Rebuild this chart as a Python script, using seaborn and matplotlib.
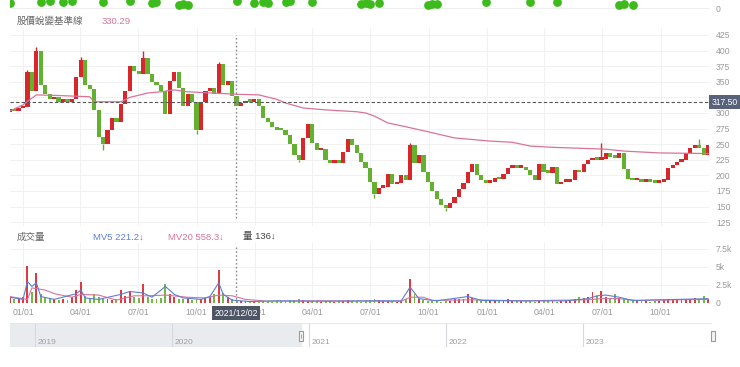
import numpy as np
import pandas as pd
import matplotlib
matplotlib.use("Agg")
import matplotlib.pyplot as plt
import matplotlib.dates as mdates
import matplotlib.transforms as mtransforms
from matplotlib.patches import Rectangle
import seaborn as sns

# weekly closes (2020-12-11 .. 2023-12-15)
close = [305, 303, 308, 310, 365, 336, 400, 345, 330, 322,
         326, 318, 320, 318, 322, 358, 385, 345, 338, 305,
         262, 250, 272, 292, 285, 315, 335, 375, 368, 362,
         388, 362, 350, 345, 335, 298, 352, 365, 340, 312,
         330, 318, 272, 318, 335, 340, 330, 378, 345, 352,
         328, 312, 316, 320, 318, 322, 312, 292, 285, 278,
         273, 272, 265, 250, 232, 225, 260, 282, 252, 240,
         242, 225, 220, 222, 220, 238, 258, 248, 236, 222,
         212, 190, 170, 180, 182, 202, 186, 188, 200, 192,
         248, 220, 232, 205, 190, 175, 162, 152, 148, 155,
         165, 178, 188, 205, 218, 200, 192, 188, 190, 196,
         194, 202, 212, 216, 212, 214, 208, 200, 193, 218,
         205, 204, 214, 186, 190, 190, 192, 208, 205, 218,
         224, 228, 225, 226, 236, 230, 228, 236, 210, 195,
         192, 193, 190, 192, 190, 188, 190, 192, 212, 216,
         222, 224, 236, 244, 246, 244, 232, 248]
first_open = 302

# volume in thousands
volume = [0.8, 0.6, 0.5, 0.8, 5.1, 1.5, 4.2, 1.2, 0.8, 0.6,
          0.5, 0.4, 0.5, 0.4, 0.9, 1.8, 2.9, 1.0, 0.6, 1.2,
          0.8, 0.6, 0.5, 0.4, 0.5, 1.8, 1.0, 1.6, 0.9, 0.7,
          2.7, 0.9, 0.5, 0.6, 0.7, 2.6, 1.2, 0.8, 0.6, 0.5,
          0.6, 0.4, 0.6, 0.5, 0.7, 0.9, 1.3, 4.6, 1.4, 0.8,
          0.5, 0.4, 0.3, 0.3, 0.25, 0.3, 0.2, 0.25, 0.3, 0.2,
          0.3, 0.25, 0.3, 0.35, 0.4, 0.5, 0.4, 0.3, 0.25, 0.3,
          0.2, 0.25, 0.3, 0.2, 0.25, 0.3, 0.35, 0.3, 0.25, 0.2,
          0.3, 0.4, 0.5, 0.4, 0.3, 0.25, 0.3, 0.2, 0.3, 0.5,
          3.4, 1.2, 0.5, 0.4, 0.3, 0.25, 0.3, 0.2, 0.25, 0.3,
          0.5, 0.6, 0.5, 1.2, 0.7, 0.4, 0.3, 0.25, 0.3, 0.35,
          0.3, 0.4, 0.5, 0.4, 0.3, 0.25, 0.3, 0.25, 0.2, 0.3,
          0.3, 0.25, 0.3, 0.2, 0.25, 0.3, 0.3, 0.6, 0.9, 0.7,
          0.8, 1.5, 1.0, 1.6, 0.8, 0.6, 1.2, 0.7, 0.5, 0.4,
          0.3, 0.25, 0.3, 0.25, 0.2, 0.3, 0.3, 0.4, 0.6, 0.5,
          0.6, 0.5, 0.6, 0.5, 0.7, 0.6, 1.0, 0.5]

# wicks for the visible spikes
high_weeks = [4, 6, 16, 30, 47, 90, 133, 155]
high_vals = [369, 406, 390, 400, 382, 252, 252, 258]
low_weeks = [21, 42, 65, 82, 98]
low_vals = [241, 266, 221, 163, 143]

# 股價蛻變基準線 (pink long baseline)
base_weeks = [0, 3, 6, 11, 18, 19, 25, 27, 31, 34, 37, 40, 51, 56, 60, 62, 66,
              71, 78, 80, 82, 85, 89, 94, 100, 108, 113, 117, 122, 134, 138, 146, 157]
base_vals = [303, 313, 329, 328, 326, 318, 318, 325, 332, 334, 337, 334, 330, 329,
             322, 316, 308, 305, 302, 300, 295, 284, 278, 270, 260, 255, 253, 247,
             245, 242, 239, 236, 235]

mv5_weeks = [0, 3, 4, 5, 6, 7, 10, 15, 16, 17, 20, 25, 27, 30, 32, 35, 37, 39, 43, 45,
             47, 48, 50, 54, 60, 70, 80, 88, 90, 92, 96, 103, 106, 115, 125, 130, 132,
             134, 137, 140, 150, 157]
mv5_vals = [0.8, 0.5, 3.0, 2.3, 2.8, 0.9, 0.5, 1.3, 1.8, 0.7, 0.5, 1.2, 1.6, 1.4, 0.8,
            2.3, 1.2, 0.7, 0.5, 0.9, 2.8, 1.2, 0.4, 0.2, 0.3, 0.25, 0.3, 0.3, 2.2, 0.6,
            0.3, 0.9, 0.35, 0.3, 0.3, 0.6, 1.0, 1.1, 0.8, 0.35, 0.5, 0.6]
mv20_weeks = [0, 4, 5, 8, 10, 14, 16, 20, 24, 28, 31, 35, 40, 44, 47, 50, 53, 58, 70, 88,
              90, 93, 95, 104, 115, 130, 134, 137, 141, 150, 157]
mv20_vals = [0.9, 0.5, 2.1, 1.8, 1.3, 0.8, 1.2, 1.1, 0.4, 1.0, 1.0, 1.1, 0.8, 0.7, 1.1,
             1.0, 0.5, 0.25, 0.3, 0.25, 0.8, 0.8, 0.35, 0.45, 0.3, 0.45, 0.65, 0.6, 0.35,
             0.45, 0.5]

# green markers of the panel above (cut off at the top)
signal_weeks = [0, 7, 9, 12, 14, 21, 27, 32, 33, 38, 39, 40, 51, 55, 57, 58, 62, 63, 68,
                79, 80, 81, 83, 94, 95, 96, 107, 117, 123, 137, 138, 140]
signal_level = [5, 6, 7, 6, 7, 6, 7, 5, 6, 3, 4, 3, 7, 5, 6, 5, 6, 7, 6, 4, 5, 4, 5, 3,
                4, 4, 6, 6, 6, 3, 4, 3]

price_ticks = [125, 150, 175, 200, 225, 250, 275, 300, 325, 350, 375, 400, 425]
vol_ticks = [0, 2.5, 5, 7.5]
vol_labels = ['0', '2.5k', '5k', '7.5k']
nav_years = [2019, 2020, 2021, 2022, 2023]

cross_date = pd.Timestamp('2021-12-02')
cross_price = 317.50
base_at_cross = 330.29
mv5_now, mv20_now, vol_now = 221.2, 558.3, 136

weeks = pd.date_range('2020-12-11', periods=len(close), freq='7D')
close = np.array(close, dtype=float)
opens = np.r_[first_open, close[:-1]]
up = close >= opens

RED, GREEN = '#d9262b', '#62b22f'
PINK, BLUE = '#d9739a', '#5b7fd6'
GREYTXT = '#9a9a9a'

sns.set_theme(style='white')
plt.rcParams['font.family'] = ['Liberation Sans', 'Noto Sans CJK TC', 'DejaVu Sans']

W, H = 740, 367
fig = plt.figure(figsize=(W / 100, H / 100), dpi=100)


def rect(x0, y0, x1, y1):
    return [x0 / W, 1 - y1 / H, (x1 - x0) / W, (y1 - y0) / H]


def main_date(px):
    return pd.Timestamp('2021-01-01') + pd.Timedelta(days=(px - 23) * 365 / 232)


def nav_date(px):
    return pd.Timestamp('2021-01-01') + pd.Timedelta(days=(px - 309) * 365.25 / 137)


xlim = (main_date(10), main_date(709))
month_ticks = pd.date_range('2021-01-01', '2023-10-01', freq='QS')
month_labels = [d.strftime('%m/%d') for d in month_ticks]

ax_top = fig.add_axes(rect(10, 0, 709, 11))
ax = fig.add_axes(rect(10, 28, 709, 226))
axv = fig.add_axes(rect(10, 243, 709, 303))
axn = fig.add_axes(rect(10, 323, 712, 347))

for a in (ax_top, ax, axv, axn):
    for s in a.spines.values():
        s.set_visible(False)
    a.set_facecolor('none')

# top strip
ax_top.scatter(weeks[signal_weeks], signal_level, s=40, color='#3dbb1c', zorder=3,
               linewidths=0)
ax_top.set_xlim(xlim)
ax_top.set_ylim(-3, 8)
ax_top.set_xticks([])
ax_top.axhline(0, color='#eeeeee', lw=0.7, zorder=1)
ax_top.yaxis.tick_right()
ax_top.set_yticks([0])
ax_top.set_yticklabels(['0'])
ax_top.tick_params(axis='y', length=0, pad=5, labelsize=6.2, colors=GREYTXT)

# price panel
width = pd.Timedelta(days=6.6)
body_lo = np.minimum(opens, close)
body_h = np.maximum(np.abs(close - opens), 4.0)
cols = np.where(up, RED, GREEN)
ax.bar(weeks, body_h, bottom=body_lo, width=width, color=cols, linewidth=0, zorder=3)
ax.vlines(weeks[high_weeks], np.maximum(opens, close)[high_weeks], high_vals,
          colors=cols[high_weeks], lw=1.0, zorder=3)
ax.vlines(weeks[low_weeks], low_vals, body_lo[low_weeks],
          colors=cols[low_weeks], lw=1.0, zorder=3)
sns.lineplot(x=weeks[base_weeks], y=base_vals, ax=ax, color=PINK, lw=0.9, zorder=4)
ax.set_xlim(xlim)
ax.set_ylim(118.9, 436.2)
ax.set_xticks(month_ticks)
ax.set_yticks(price_ticks)
ax.yaxis.tick_right()
ax.tick_params(axis='x', length=0, labelbottom=False)
ax.tick_params(axis='y', length=0, pad=5, labelsize=6.2, colors=GREYTXT)
ax.grid(True, color='#f1f1f1', lw=0.7, zorder=0)
ax.set_xlabel('')
ax.set_ylabel('')

ax.axhline(cross_price, color='#555555', lw=0.8, ls=(0, (3, 2)), zorder=5)
ax.axvline(cross_date, ymin=0.04, ymax=0.965, color='#8a8a8a', lw=1.0,
           ls=(0, (1.2, 1.6)), zorder=5)
ax.annotate(f'{cross_price:.2f}', xy=(1.0, cross_price),
            xycoords=('axes fraction', 'data'), xytext=(2, 0), textcoords='offset points',
            ha='left', va='center', fontsize=6.2, color='white', annotation_clip=False,
            zorder=20,
            bbox=dict(boxstyle='square,pad=0.3', fc='#58627a', ec='none'))

fig.text(17 / W, 1 - 21 / H, '股價蛻變基準線', ha='left', va='center', fontsize=6.8,
         color='#666666')
fig.text(102 / W, 1 - 21 / H, f'{base_at_cross:.2f}', ha='left', va='center',
         fontsize=6.8, color=PINK)

# volume panel
axv.bar(weeks, volume, width=pd.Timedelta(days=3), color=cols, linewidth=0,
        alpha=0.9, zorder=3)
sns.lineplot(x=weeks[mv20_weeks], y=mv20_vals, ax=axv, color=PINK, lw=0.8, zorder=4)
sns.lineplot(x=weeks[mv5_weeks], y=mv5_vals, ax=axv, color=BLUE, lw=0.8, zorder=4)
axv.set_xlim(xlim)
axv.set_ylim(0, 60 / 7.2)
axv.set_yticks(vol_ticks)
axv.set_yticklabels(vol_labels)
axv.yaxis.tick_right()
axv.set_xticks(month_ticks)
axv.set_xticklabels(month_labels)
axv.tick_params(axis='x', length=0, pad=3.5, labelsize=6.2, colors=GREYTXT)
axv.tick_params(axis='y', length=0, pad=5, labelsize=6.2, colors=GREYTXT)
axv.grid(True, color='#f1f1f1', lw=0.7, zorder=0)
axv.axhline(0, color='#e2e2e2', lw=0.7, zorder=2)
axv.set_xlabel('')
axv.set_ylabel('')
axv.axvline(cross_date, ymin=0, ymax=0.93, color='#8a8a8a', lw=1.0,
            ls=(0, (1.2, 1.6)), zorder=5)
axv.annotate(cross_date.strftime('%Y/%m/%d'), xy=(cross_date, 0),
             xycoords=('data', 'axes fraction'), xytext=(0, -7.5),
             textcoords='offset points', ha='center', va='center', fontsize=6.2,
             color='white', zorder=20, annotation_clip=False,
             bbox=dict(boxstyle='square,pad=0.3', fc='#4d5666', ec='none'))

fig.text(17 / W, 1 - 237 / H, '成交量', ha='left', va='center', fontsize=6.8,
         color='#666666')
fig.text(93 / W, 1 - 237 / H, f'MV5 {mv5_now}↓', ha='left', va='center',
         fontsize=6.8, color=BLUE)
fig.text(168 / W, 1 - 237 / H, f'MV20 {mv20_now}↓', ha='left', va='center',
         fontsize=6.8, color=PINK)
fig.text(243 / W, 1 - 237 / H, f'量 {vol_now}↓', ha='left', va='center',
         fontsize=6.8, color='#444444')

# navigator
sel_start, sel_end = weeks[0], weeks[-1]
axn.set_xlim(nav_date(10), nav_date(712))
axn.set_ylim(0, 1)
axn.set_xticks([])
axn.set_yticks([])
axn.axvspan(nav_date(10), sel_start, color='#e9ecef', zorder=0)
year_starts = [pd.Timestamp(f'{y}-01-01') for y in nav_years]
axn.vlines(year_starts, 0, 1, colors='#d6d9dd', lw=0.8, zorder=1)
for y, d in zip(nav_years, year_starts):
    axn.annotate(str(y), xy=(d, 0.2), xycoords=('data', 'axes fraction'),
                 xytext=(2, 0), textcoords='offset points', ha='left', va='center',
                 fontsize=6.0, color='#a0a0a0')
axn.axhline(0, color='#cfd3d8', lw=0.8)
axn.axhline(1, color='#e3e5e8', lw=0.6)
for d in (sel_start, sel_end):
    hw = pd.Timedelta(days=5.5)
    x0 = mdates.date2num(d - hw)
    x1 = mdates.date2num(d + hw)
    axn.add_patch(Rectangle((x0, 0.25), x1 - x0, 0.42, fc='#f4f4f4', ec='#9a9a9a',
                            lw=0.8, zorder=5, clip_on=False))
    axn.vlines(mdates.date2num(d), 0.36, 0.56, colors='#9a9a9a', lw=0.6, zorder=6)

fig.savefig('out.png', dpi=100)
